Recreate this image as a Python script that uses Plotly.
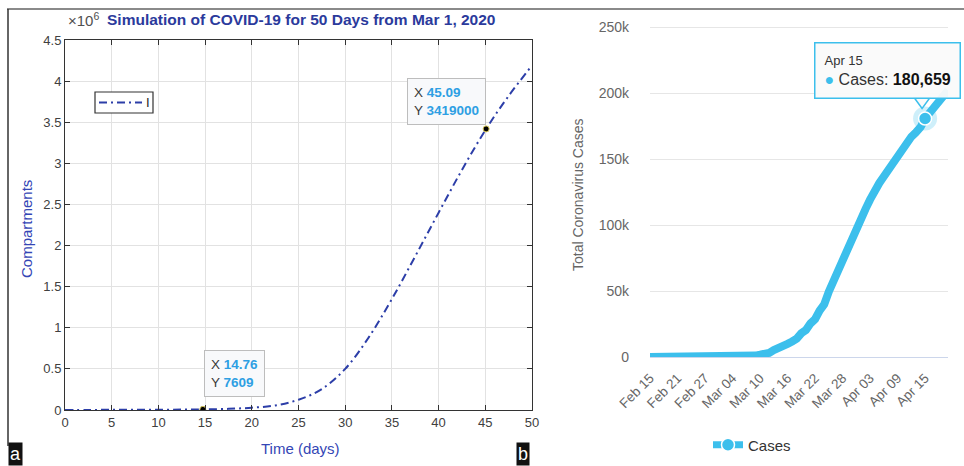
import plotly.graph_objects as go
import pandas as pd

W, H = 964, 466

# ---------------- Panel a: simulation ----------------
sim_name = "I"
sim_t = [0, 2.5, 5, 7.5, 10, 12.5, 14.76, 17.5, 20, 22.5, 25, 27.5, 30,
         32.5, 35, 37.5, 40, 42.5, 45.09, 47.5, 50]
sim_I = [1000, 1300, 1800, 2500, 3400, 5000, 7609, 14000, 28000, 55000,
         125000, 255000, 500000, 880000, 1350000, 1870000, 2400000,
         2920000, 3419000, 3820000, 4190000]
tip_t = [14.76, 45.09]
tip_I = [7609, 3419000]
tip_tlabels = ["14.76", "45.09"]
tip_ilabels = ["7609", "3419000"]
a_xticks = [0, 5, 10, 15, 20, 25, 30, 35, 40, 45, 50]
a_yticks = [0, 0.5e6, 1e6, 1.5e6, 2e6, 2.5e6, 3e6, 3.5e6, 4e6, 4.5e6]
a_yticktext = ["0", "0.5", "1", "1.5", "2", "2.5", "3", "3.5", "4", "4.5"]

# ---------------- Panel b: reported cases ----------------
cases = [2, 2, 2, 2, 2, 2, 2, 2, 2, 2, 6, 13, 15, 32, 45,
         84, 120, 165, 222, 259, 400, 500, 673, 1073, 1695, 2277, 3146,
         5232, 6391, 7798, 9942, 11748, 13910, 17963, 20410, 25374, 28603,
         35136, 39885, 49515, 57786, 65719, 73235, 80110, 87956, 95923,
         104118, 112065, 119199, 126168, 131646, 136675, 141942, 148220,
         153222, 158273, 163027, 166831, 170099, 174060, 180659, 184948,
         190839, 194416, 198674, 202000]
dates = [d.strftime("%Y-%m-%d") for d in pd.date_range("2020-02-15", periods=len(cases))]
b_tickdates = ["2020-02-15", "2020-02-21", "2020-02-27", "2020-03-04", "2020-03-10",
               "2020-03-16", "2020-03-22", "2020-03-28", "2020-04-03", "2020-04-09",
               "2020-04-15"]
b_ticktext = ["Feb 15", "Feb 21", "Feb 27", "Mar 04", "Mar 10", "Mar 16", "Mar 22",
              "Mar 28", "Apr 03", "Apr 09", "Apr 15"]
b_yticks = [0, 50000, 100000, 150000, 200000, 250000]
b_yticktext = ["0", "50k", "100k", "150k", "200k", "250k"]
hl_date = "2020-04-15"
hl_value = cases[dates.index(hl_date)]

SIM_BLUE = "#2c3ea8"
SIM_DASH = "8px,4px,2px,4px"
HC_BLUE = "#3cbfec"
FONT = "Liberation Sans, Arial, sans-serif"

fig = go.Figure()

fig.add_trace(go.Scatter(
    x=sim_t, y=sim_I, mode="lines", name=sim_name, line_shape="spline", showlegend=False,
    line=dict(color=SIM_BLUE, width=2, dash=SIM_DASH),
    xaxis="x", yaxis="y"))
fig.add_trace(go.Scatter(
    x=tip_t, y=tip_I, mode="markers", showlegend=False,
    marker=dict(color="black", size=6, line=dict(color="#d8c85a", width=1)),
    xaxis="x", yaxis="y"))

fig.add_trace(go.Scatter(
    x=dates, y=cases, mode="lines", name="Cases", showlegend=False,
    line=dict(color=HC_BLUE, width=8), xaxis="x2", yaxis="y2"))
fig.add_trace(go.Scatter(
    x=[hl_date], y=[hl_value], mode="markers", showlegend=False,
    marker=dict(color="rgba(60,191,236,0.25)", size=24),
    xaxis="x2", yaxis="y2"))
fig.add_trace(go.Scatter(
    x=[hl_date], y=[hl_value], mode="lines+markers", name="Cases",
    line=dict(color=HC_BLUE, width=7),
    marker=dict(color=HC_BLUE, size=13, line=dict(color="white", width=1.5)),
    xaxis="x2", yaxis="y2", legend="legend2"))

def px(xp):
    return xp / W

def py(yp):
    return (H - yp) / H

axis_a = dict(showline=True, linecolor="#333333", linewidth=1, mirror="ticks",
              ticks="inside", ticklen=5, tickcolor="#333333", showgrid=True,
              gridcolor="#e2e2e2", zeroline=False, automargin=False,
              tickfont=dict(family=FONT, size=13, color="#404040"))

annotations = []
# data tips
for i in range(len(tip_t)):
    txt = ("X <b><span style='color:#2e9fe3'>%s</span></b><br>"
           "Y <b><span style='color:#2e9fe3'>%s</span></b>") % (tip_tlabels[i], tip_ilabels[i])
    if i == 0:
        kw = dict(xanchor="left", yanchor="bottom", xshift=1, yshift=12)
    else:
        kw = dict(xanchor="right", yanchor="bottom", xshift=0, yshift=4)
    annotations.append(dict(
        x=tip_t[i], y=tip_I[i], xref="x", yref="y", text=txt, showarrow=False,
        align="left", bgcolor="#f8f9fb", bordercolor="#bdbdbd", borderwidth=1,
        borderpad=6, font=dict(family=FONT, size=13.5, color="#3a3a3a"), **kw))

annotations += [
    dict(x=px(66), y=py(20), xref="paper", yref="paper", xanchor="left", yanchor="middle",
         text="×10<sup>6</sup>", showarrow=False,
         font=dict(family=FONT, size=15, color="#505050")),
    dict(x=px(301), y=py(20), xref="paper", yref="paper", xanchor="center", yanchor="middle",
         text="<b>Simulation of COVID-19 for 50 Days from Mar 1, 2020</b>", showarrow=False,
         font=dict(family=FONT, size=15.5, color="#2b3a9c")),
    dict(x=px(26), y=py(229), xref="paper", yref="paper", xanchor="center", yanchor="middle",
         text="Compartments", textangle=-90, showarrow=False,
         font=dict(family=FONT, size=15, color="#3446b5")),
    dict(x=px(300), y=py(448), xref="paper", yref="paper", xanchor="center", yanchor="middle",
         text="Time (days)", showarrow=False,
         font=dict(family=FONT, size=15, color="#3446b5")),
    dict(x=px(578), y=py(195), xref="paper", yref="paper", xanchor="center", yanchor="middle",
         text="Total Coronavirus Cases", textangle=-90, showarrow=False,
         font=dict(family=FONT, size=14, color="#666666")),
    # legend label of panel a
    dict(x=px(148), y=py(102.5), xref="paper", yref="paper", xanchor="center", yanchor="middle",
         text=sim_name, showarrow=False, font=dict(family=FONT, size=13, color="#222222")),
    # panel letters
    dict(x=px(8), y=0, xref="paper", yref="paper", xanchor="left", yanchor="bottom",
         text="a", showarrow=False, bgcolor="#111111", borderpad=1,
         font=dict(family=FONT, size=18, color="white")),
    dict(x=px(516), y=0, xref="paper", yref="paper", xanchor="left", yanchor="bottom",
         text="b", showarrow=False, bgcolor="#111111", borderpad=1,
         font=dict(family=FONT, size=18, color="white")),
    # tooltip
    dict(x=hl_date, y=hl_value, xref="x2", yref="y2", xanchor="right", yanchor="bottom",
         xshift=36, yshift=20, showarrow=False, align="left",
         text=("<span style='font-size:13px;color:#333'>Apr 15</span><br>"
               "<span style='color:%s'>●</span> Cases: <b><span style='color:#111'>%s</span></b>")
              % (HC_BLUE, f"{hl_value:,}"),
         bgcolor="rgba(250,250,250,0.95)", bordercolor=HC_BLUE, borderwidth=1.5, borderpad=9,
         font=dict(family=FONT, size=16, color="#333333")),
]

shapes = [
    dict(type="line", xref="paper", yref="paper", x0=px(7), x1=1, y0=py(9), y1=py(9),
         line=dict(color="#8a8a8a", width=2)),
    dict(type="line", xref="paper", yref="paper", x0=px(8), x1=px(8), y0=py(446), y1=py(9),
         line=dict(color="#333333", width=1.5)),
    # legend box of panel a
    dict(type="rect", xref="paper", yref="paper", x0=px(95), x1=px(153), y0=py(113), y1=py(92),
         fillcolor="white", line=dict(color="#333333", width=1.2), layer="above"),
    dict(type="line", xref="paper", yref="paper", x0=px(99), x1=px(142), y0=py(102.5), y1=py(102.5),
         line=dict(color=SIM_BLUE, width=2, dash=SIM_DASH), layer="above"),
    # tooltip pointer
    dict(type="path", xref="x2", yref="y2", xsizemode="pixel", ysizemode="pixel",
         xanchor=hl_date, yanchor=hl_value, path="M -11,21 L -3,10 L 5,21 Z",
         fillcolor="rgba(250,250,250,1)", line=dict(color=HC_BLUE, width=1.5), layer="above"),
]

fig.update_layout(
    width=W, height=H, margin=dict(l=0, r=0, t=0, b=0, autoexpand=False),
    paper_bgcolor="white", plot_bgcolor="white", showlegend=True,
    font=dict(family=FONT),
    xaxis=dict(domain=[px(65), px(532)], range=[0, 50], tickvals=a_xticks,
               anchor="y", **axis_a),
    yaxis=dict(domain=[py(410), py(40)], range=[0, 4.5e6], tickvals=a_yticks,
               ticktext=a_yticktext, anchor="x", **axis_a),
    xaxis2=dict(domain=[px(650), px(948)], type="date", range=["2020-02-15", "2020-04-20"],
                tickvals=b_tickdates, ticktext=b_ticktext, tickangle=-45, ticks="",
                ticklabelstandoff=7, automargin=False,
                showgrid=False, zeroline=False, showline=True, linecolor="#ccd6eb",
                tickfont=dict(family=FONT, size=13.5, color="#666666"), anchor="y2"),
    yaxis2=dict(domain=[py(357), py(357 - 330 * 252 / 250)], range=[0, 252000],
                tickvals=b_yticks, ticktext=b_yticktext, showgrid=True, gridcolor="#e6e6e6",
                zeroline=False, showline=False, ticks="", ticklabelstandoff=20, automargin=False,
                tickfont=dict(family=FONT, size=14, color="#666666"), anchor="x2"),
    legend2=dict(x=px(708), y=py(445), xanchor="left", yanchor="middle",
                 orientation="h", bgcolor="rgba(0,0,0,0)",
                 font=dict(family=FONT, size=15, color="#333333"), itemwidth=30),
    annotations=annotations, shapes=shapes,
)

fig.write_html("out.html", config={"displayModeBar": False},
               post_script="document.body.style.margin='0';document.body.style.overflow='hidden';")
